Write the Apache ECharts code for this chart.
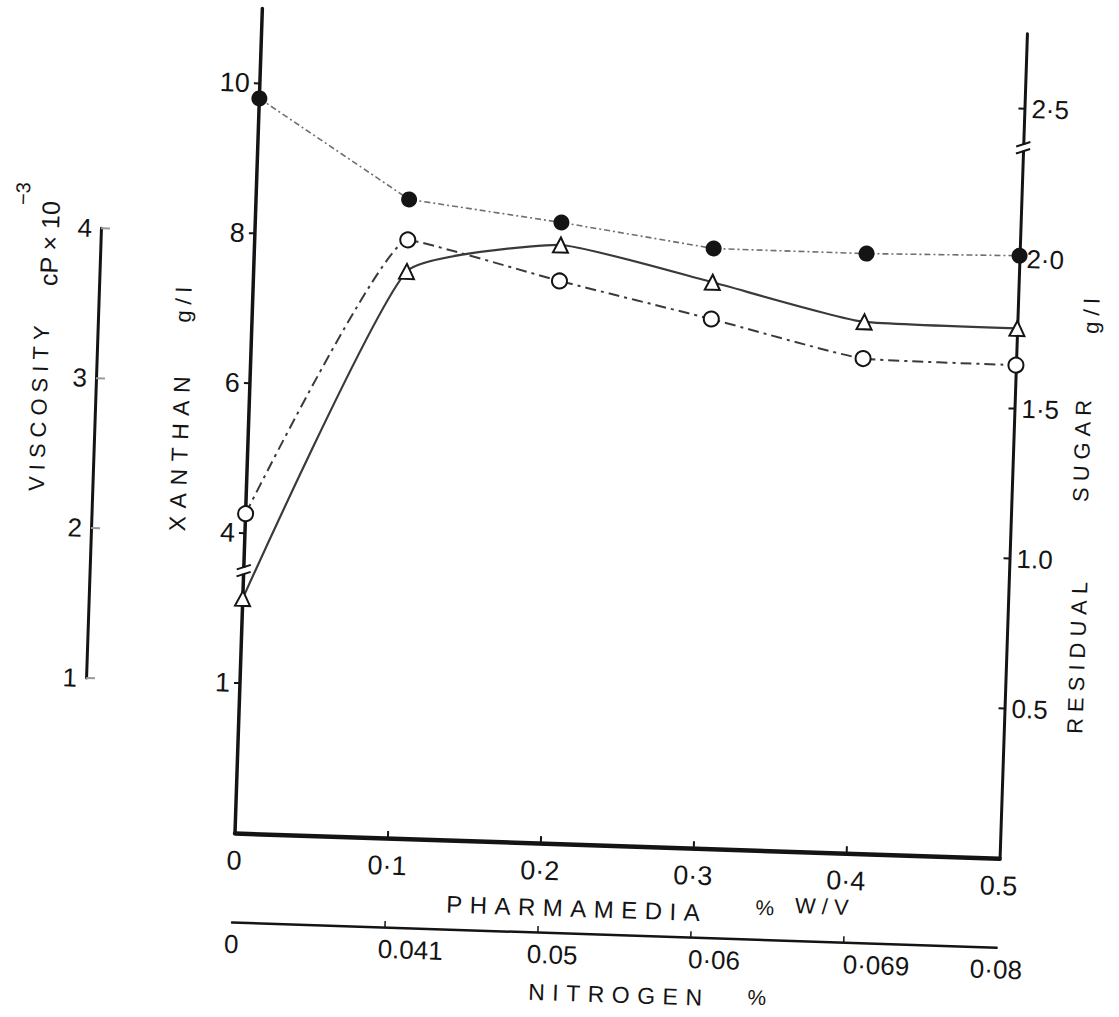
<!DOCTYPE html>
<html>
<head>
<meta charset="utf-8">
<title>Xanthan, viscosity and residual sugar vs Pharmamedia</title>
<script src="https://cdn.jsdelivr.net/npm/echarts@6/dist/echarts.min.js"></script>
<style>
  html, body { margin: 0; padding: 0; background: #fff; overflow: hidden; width: 1119px; height: 1017px; position: relative; }
  /* the whole drawing sits slightly tilted on the page; the canvas reaches a little past the left edge */
  #chart { position: absolute; left: -40px; top: 0; width: 1159px; height: 1017px;
           transform: rotate(1.9deg); transform-origin: 275px 833px; }
  /* stencil-style lettering: widely spaced capitals in the axis titles */
  #chart text[style*="24px"] { letter-spacing: 7.5px; }
  #chart text[style*="23px"] { letter-spacing: 7.5px; }
  #chart text[style*="22px"] { letter-spacing: 6px; }
</style>
</head>
<body>
<div id="chart"></div>
<script>
// ---- data -------------------------------------------------------------
// Pharmamedia concentration (% w/v) and the nitrogen (%) it supplies
const pharmamedia = [0, 0.1, 0.2, 0.3, 0.4, 0.5];
const pharmamediaTickLabels = ['0', '0·1', '0·2', '0·3', '0·4', '0.5'];
const nitrogenTickLabels = ['0', '0.041', '0.05', '0·06', '0·069', '0·08'];

// responses at each Pharmamedia level
const xanthan = [3.13, 7.56, 7.98, 7.55, 7.09, 7.07];        // g/l          (open triangles)
const viscosity = [2.13, 3.99, 3.75, 3.53, 3.30, 3.29];      // cP x 10^-3   (open circles)
const residualSugar = [2.45, 2.13, 2.07, 2.00, 2.00, 2.01];  // g/l          (filled circles)

// axis ticks and the labels printed at them
const xanthanTicks = [2, 4, 6, 8, 10];
const xanthanTickLabels = ['1', '4', '6', '8', '10'];
const sugarTicks = [0.5, 1, 1.5, 2, 2.5];
const sugarTickLabels = ['0.5', '1.0', '1·5', '2·0', '2·5'];
const viscosityTicks = [1, 2, 3, 4];
const viscosityTickLabels = ['1', '2', '3', '4'];

// ---- layout -----------------------------------------------------------
const FONT = "'Liberation Sans', Arial, sans-serif";
const INK = '#141414';
const PLOT = { left: 275, top: 8, width: 765, height: 825 };
const PLOT_BOTTOM = PLOT.top + PLOT.height;
const X_MAX = 0.5, XANTHAN_MAX = 11, SUGAR_MAX = 2.75, VISC_MAX = 5.5;
const VISC_AXIS_GAP = 154;                       // distance of the viscosity scale left of the plot
const unitPx = PLOT.height / VISC_MAX;           // pixels per viscosity unit
const viscGrid = {
  left: PLOT.left - VISC_AXIS_GAP,
  top: PLOT_BOTTOM - 4 * unitPx,
  width: 10,
  height: 3 * unitPx
};
const NITROGEN_OFFSET = 89;
const nitrogenLabelShift = [0, 52, 30, 48, 66, 0];   // label nudges to the right, px x2

// title lettering: text, u, v (px from the plot origin, v upward), rotation (deg), size
const titleLayout = [
  ['XANTHAN', -68, 381, 90, 23],
  ['g/l', -69, 529, 90, 22],
  ['RESIDUAL', 836, 206, 90, 22],
  ['SUGAR', 834, 413, 90, 22],
  ['g/l', 839, 548, 90, 22],
  ['VISCOSITY', -210, 421, 90, 22],
  ['cP × 10', -205, 583, 90, 25],
  ['−3', -233, 632, 90, 20],
  ['PHARMAMEDIA', 344, -64, 0, 24],
  ['%', 532, -57, 0, 21],
  ['W/V', 592, -54, 0, 22],
  ['NITROGEN', 389, -149, 0, 23],
  ['%', 527, -147, 0, 21]
];

const pts = vals => pharmamedia.map((x, i) => [x, vals[i]]);
const lookup = (ticks, labels) => v => {
  const i = ticks.findIndex(t => Math.abs(t - v) < 1e-9);
  return i < 0 ? '' : labels[i];
};

const nitrogenRich = {};
nitrogenTickLabels.forEach((_, i) => {
  nitrogenRich['n' + i] = { fontSize: 26, fontFamily: FONT, color: INK, padding: [0, 0, 0, nitrogenLabelShift[i]] };
});

const chart = echarts.init(document.getElementById('chart'), null, { renderer: 'svg' });

const option = {
  animation: false,
  backgroundColor: '#fff',
  textStyle: { fontFamily: FONT, color: INK },
  grid: [
    { left: PLOT.left, top: PLOT.top, width: PLOT.width, height: PLOT.height },
    { left: viscGrid.left, top: viscGrid.top, width: viscGrid.width, height: viscGrid.height }
  ],
  xAxis: [
    {
      type: 'value', gridIndex: 0, position: 'bottom', min: 0, max: X_MAX,
      axisLine: { show: true, onZero: false, lineStyle: { color: INK, width: 4.5 } },
      axisTick: { show: true, inside: true, length: 7, customValues: [0.1, 0.2, 0.3, 0.4], lineStyle: { color: INK, width: 2 } },
      axisLabel: { customValues: pharmamedia, formatter: lookup(pharmamedia, pharmamediaTickLabels),
                   fontSize: 27, color: INK, margin: 14, fontFamily: FONT },
      splitLine: { show: false }
    },
    {
      type: 'value', gridIndex: 0, position: 'bottom', offset: NITROGEN_OFFSET, min: 0, max: X_MAX,
      axisLine: { show: true, onZero: false, lineStyle: { color: INK, width: 2.5 } },
      axisTick: { show: true, inside: true, length: 6, customValues: [0.1, 0.2, 0.3, 0.4], lineStyle: { color: INK, width: 1.5 } },
      axisLabel: {
        customValues: pharmamedia,
        formatter: v => {
          const i = pharmamedia.findIndex(t => Math.abs(t - v) < 1e-9);
          return i < 0 ? '' : '{n' + i + '|' + nitrogenTickLabels[i] + '}';
        },
        rich: nitrogenRich, fontSize: 26, color: INK, margin: 9, fontFamily: FONT
      },
      splitLine: { show: false }
    },
    { type: 'value', gridIndex: 1, show: false, min: 0, max: 1 }
  ],
  yAxis: [
    {
      // xanthan, g/l
      type: 'value', gridIndex: 0, position: 'left', min: 0, max: XANTHAN_MAX,
      axisLine: { show: true, onZero: false, lineStyle: { color: INK, width: 3.5 } },
      axisTick: { show: true, inside: false, length: 6, customValues: xanthanTicks, lineStyle: { color: INK, width: 2 } },
      axisLabel: { customValues: xanthanTicks, formatter: lookup(xanthanTicks, xanthanTickLabels),
                   fontSize: 27, color: INK, margin: 10, fontFamily: FONT },
      splitLine: { show: false }
    },
    {
      // residual sugar, g/l
      type: 'value', gridIndex: 0, position: 'right', min: 0, max: SUGAR_MAX,
      axisLine: { show: true, onZero: false, lineStyle: { color: INK, width: 3 } },
      axisTick: { show: true, inside: true, length: 6, customValues: sugarTicks, lineStyle: { color: INK, width: 2 } },
      axisLabel: { customValues: sugarTicks, formatter: lookup(sugarTicks, sugarTickLabels),
                   fontSize: 26, color: INK, margin: 7, fontFamily: FONT },
      splitLine: { show: false }
    },
    {
      // viscosity scale used for plotting (same height ratio as the drawn scale)
      type: 'value', gridIndex: 0, position: 'left', min: 0, max: VISC_MAX, show: false,
      axisLine: { onZero: false }
    },
    {
      // drawn viscosity scale, cP x 10^-3
      type: 'value', gridIndex: 1, position: 'left', min: 1, max: 4, interval: 1,
      axisLine: { show: true, onZero: false, lineStyle: { color: INK, width: 3 } },
      axisTick: { show: true, inside: true, length: 9, customValues: viscosityTicks, lineStyle: { color: '#9a9a9a', width: 2 } },
      axisLabel: { customValues: viscosityTicks, formatter: lookup(viscosityTicks, viscosityTickLabels),
                   fontSize: 26, color: INK, margin: 9, fontFamily: FONT },
      splitLine: { show: false }
    }
  ],
  series: [
    {
      name: 'Residual sugar', type: 'line', xAxisIndex: 0, yAxisIndex: 1,
      data: pts(residualSugar), clip: false, smooth: false,
      symbol: 'circle', symbolSize: 16,
      itemStyle: { color: INK },
      lineStyle: { color: '#6f6f6f', width: 1.6, type: [6, 3, 2, 3] },
      z: 4
    },
    {
      name: 'Xanthan', type: 'line', xAxisIndex: 0, yAxisIndex: 0,
      data: pts(xanthan), clip: false, smooth: 0.15,
      symbol: 'triangle', symbolSize: 15,
      itemStyle: { color: '#fff', borderColor: INK, borderWidth: 2 },
      lineStyle: { color: '#3a3a3a', width: 2.2, type: 'solid' },
      z: 3
    },
    {
      name: 'Viscosity', type: 'line', xAxisIndex: 0, yAxisIndex: 2,
      data: pts(viscosity), clip: false, smooth: 0.12,
      symbol: 'circle', symbolSize: 15,
      itemStyle: { color: '#fff', borderColor: INK, borderWidth: 2 },
      lineStyle: { color: '#3a3a3a', width: 2, type: [11, 5, 3, 5] },
      z: 3
    }
  ]
};

chart.setOption(option);

// axis-break marks on the xanthan and residual sugar scales
function breakMark(x, y) {
  return [
    { type: 'rect', shape: { x: x - 8, y: y - 3, width: 16, height: 6 }, style: { fill: '#fff' }, z: 50 },
    { type: 'line', shape: { x1: x - 7, y1: y - 1, x2: x + 7, y2: y - 6 }, style: { stroke: INK, lineWidth: 2 }, z: 51 },
    { type: 'line', shape: { x1: x - 7, y1: y + 6, x2: x + 7, y2: y + 1 }, style: { stroke: INK, lineWidth: 2 }, z: 51 }
  ];
}
const leftBreakY = chart.convertToPixel({ yAxisIndex: 0 }, 3.5);
const rightBreakY = chart.convertToPixel({ yAxisIndex: 1 }, 2.37);

const titles = titleLayout.map(([text, u, v, rot, size]) => ({
  type: 'text',
  x: PLOT.left + u,
  y: PLOT_BOTTOM - v,
  rotation: rot * Math.PI / 180,
  z: 60,
  style: {
    text: text, fontSize: size, fontFamily: FONT, fill: INK,
    align: 'center', verticalAlign: 'middle', textAlign: 'center', textVerticalAlign: 'middle'
  }
}));

chart.setOption({
  graphic: [
    ...breakMark(PLOT.left, leftBreakY),
    ...breakMark(PLOT.left + PLOT.width, rightBreakY),
    ...titles
  ]
});
</script>
</body>
</html>
